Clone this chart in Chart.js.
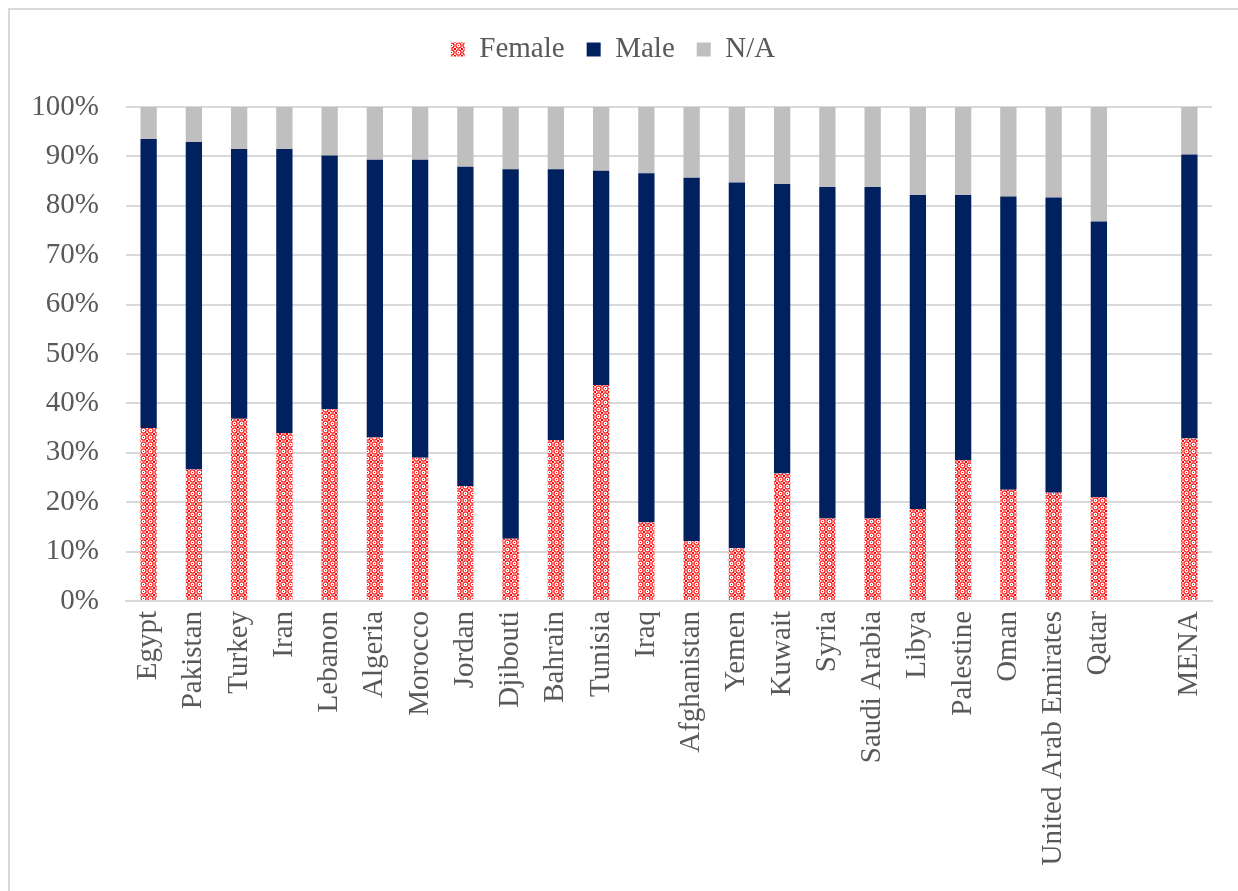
<!DOCTYPE html>
<html>
<head>
<meta charset="utf-8">
<script src="https://cdn.jsdelivr.net/npm/chart.js@4.4.1/dist/chart.umd.min.js"></script>
<style>
html,body{margin:0;padding:0;background:#fff;}
#wrap{width:1238px;height:891px;position:relative;}
</style>
</head>
<body>
<div id="wrap"><canvas id="c" width="1238" height="891"></canvas></div>
<script>
const categories = ["Egypt","Pakistan","Turkey","Iran","Lebanon","Algeria","Morocco","Jordan","Djibouti","Bahrain","Tunisia","Iraq","Afghanistan","Yemen","Kuwait","Syria","Saudi Arabia","Libya","Palestine","Oman","United Arab Emirates","Qatar","","MENA"];
const female = [35.0,26.6,36.9,34.0,38.8,33.1,29.0,23.3,12.6,32.6,43.7,15.9,12.1,10.7,25.8,16.7,16.7,18.6,28.5,22.5,21.9,21.0,null,32.9];
const male   = [58.5,66.3,54.6,57.5,51.4,56.2,60.3,64.6,74.8,54.8,43.4,70.7,73.6,74.0,58.6,67.1,67.1,63.6,53.7,59.4,59.8,55.8,null,57.5];
const na     = [6.5,7.1,8.5,8.5,9.8,10.7,10.7,12.1,12.6,12.6,12.9,13.4,14.3,15.3,15.6,16.2,16.2,17.8,17.8,18.1,18.3,23.2,null,9.6];
const yTicks = [0,10,20,30,40,50,60,70,80,90,100];

function makePattern(){
  const t = document.createElement('canvas');
  t.width = 7; t.height = 7;
  const g = t.getContext('2d');
  g.fillStyle = '#ffffff';
  g.fillRect(0,0,7,7);
  g.strokeStyle = '#ff1010';
  g.lineWidth = 1.2;
  g.beginPath();
  g.arc(3.5,3.5,2.6,0,Math.PI*2);
  g.stroke();
  g.fillStyle = '#ff0000';
  g.fillRect(0,0,1,1);g.fillRect(6,0,1,1);g.fillRect(0,6,1,1);g.fillRect(6,6,1,1);
  g.fillRect(3,3,1,1);
  return document.getElementById('c').getContext('2d').createPattern(t,'repeat');
}
const pat = makePattern();

const borderPlugin = {
  id:'frame',
  beforeInit(chart){
    const lg = chart.legend;
    if (lg) {
      const fit = lg.fit;
      lg.fit = function(){ fit.call(this); this.height += 33; };
    }
  },
  beforeDraw(chart){
    const ctx = chart.ctx;
    ctx.save();
    ctx.fillStyle='#ffffff';
    ctx.fillRect(0,0,chart.width,chart.height);
    ctx.strokeStyle='#d9d9d9';
    ctx.lineWidth=2;
    ctx.beginPath();
    ctx.moveTo(9,chart.height);
    ctx.lineTo(9,9);
    ctx.lineTo(chart.width,9);
    ctx.stroke();
    ctx.restore();
  }
};

const FONT = {family:'"Liberation Serif","Times New Roman",serif', size:29};
Chart.defaults.font = FONT;
Chart.defaults.color = '#595959';

new Chart(document.getElementById('c'), {
  type:'bar',
  data:{
    labels:categories,
    datasets:[
      {label:'Female', data:female, backgroundColor:pat, borderWidth:0},
      {label:'Male', data:male, backgroundColor:'#002060', borderWidth:0},
      {label:'N/A', data:na, backgroundColor:'#bfbfbf', borderWidth:0}
    ]
  },
  options:{
    responsive:false,
    animation:false,
    layout:{padding:{left:14,right:26,top:13,bottom:0}},
    datasets:{bar:{barPercentage:0.36,categoryPercentage:1.0}},
    plugins:{
      legend:{
        position:'top',
        labels:{boxWidth:14,boxHeight:14,padding:22,font:{family:FONT.family,size:29},color:'#595959'}
      },
      tooltip:{enabled:false}
    },
    scales:{
      x:{
        stacked:true,
        grid:{display:false, drawTicks:false},
        border:{display:true,color:'#d9d9d9',width:2},
        ticks:{maxRotation:90,minRotation:90,autoSkip:false,padding:10,font:FONT,color:'#595959'},
        afterFit(s){ s.height = 290; }
      },
      y:{
        stacked:true,
        min:0,max:100,
        afterBuildTicks(s){ s.ticks = yTicks.map(v=>({value:v})); },
        grid:{color:'#d9d9d9',lineWidth:2,drawTicks:false},
        border:{display:false},
        ticks:{padding:27,font:FONT,color:'#595959',callback:v=>v+'%'},
        afterFit(s){ s.width = 112; }
      }
    }
  },
  plugins:[borderPlugin]
});
</script>
</body>
</html>
